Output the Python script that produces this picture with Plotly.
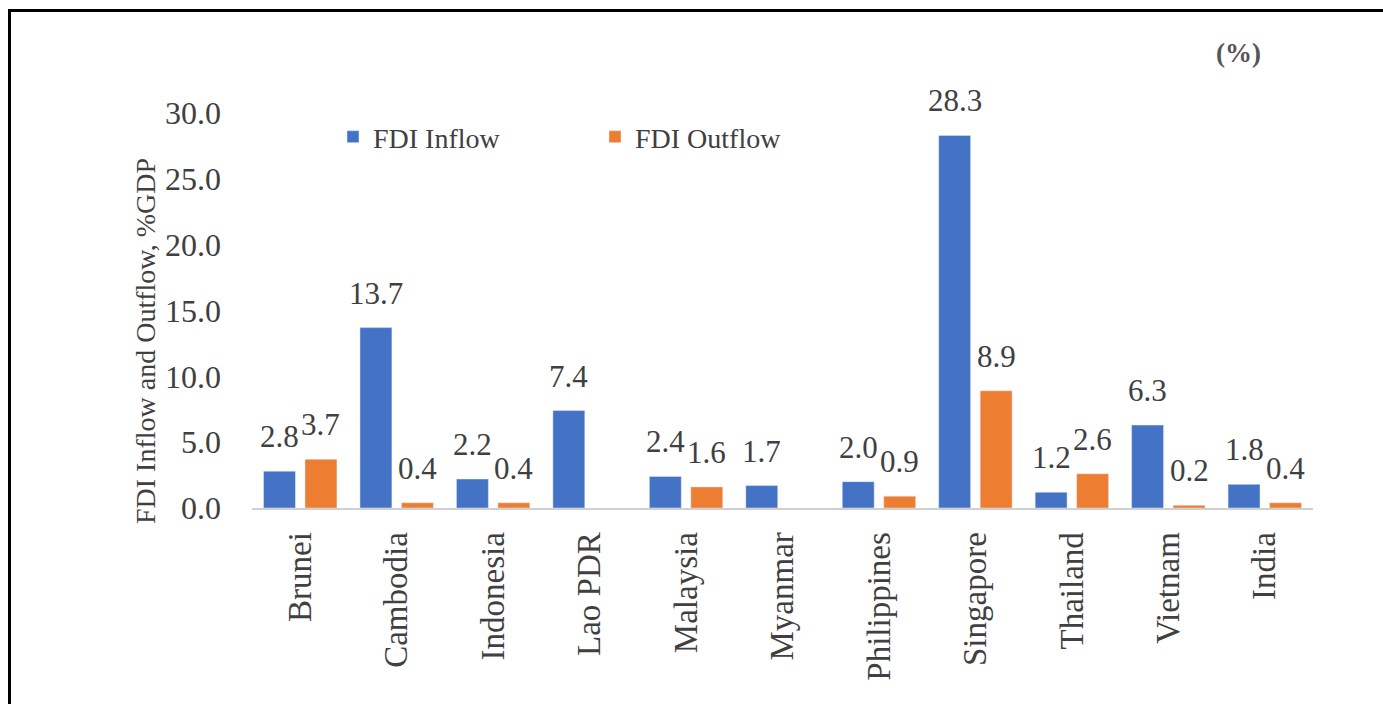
import plotly.graph_objects as go

categories = ["Brunei", "Cambodia", "Indonesia", "Lao PDR", "Malaysia", "Myanmar",
              "Philippines", "Singapore", "Thailand", "Vietnam", "India"]
inflow = [2.8, 13.7, 2.2, 7.4, 2.4, 1.7, 2.0, 28.3, 1.2, 6.3, 1.8]
outflow = [3.7, 0.4, 0.4, None, 1.6, None, 0.9, 8.9, 2.6, 0.2, 0.4]
y_ticks = [0, 5, 10, 15, 20, 25, 30]

BLUE = "#4472C4"
ORANGE = "#ED7D31"
TXT = "#404040"
FONT = "Liberation Serif, Times New Roman, DejaVu Serif, serif"

W, H = 1383, 704
L, R, T, B = 252, 70, 113, 196
pw = W - L - R
ph = H - T - B

fig = go.Figure()
fig.add_trace(go.Bar(name="FDI Inflow", x=categories, y=inflow, marker_color=BLUE))
fig.add_trace(go.Bar(name="FDI Outflow", x=categories, y=outflow, marker_color=ORANGE))

ann = []
shift = 20.75
for cat, v in zip(categories, inflow):
    if v is not None:
        ann.append(dict(x=cat, y=v, xref="x", yref="y", text=f"{v:.1f}", showarrow=False,
                        xshift=-shift, yshift=15, yanchor="bottom",
                        font=dict(family=FONT, size=31, color=TXT)))
for cat, v in zip(categories, outflow):
    if v is not None:
        ann.append(dict(x=cat, y=v, xref="x", yref="y", text=f"{v:.1f}", showarrow=False,
                        xshift=shift, yshift=15, yanchor="bottom",
                        font=dict(family=FONT, size=31, color=TXT)))

# y-axis title
ann.append(dict(x=(145 - L) / pw, y=(H - B - 341) / ph, xref="paper", yref="paper",
                text="FDI Inflow and Outflow, %GDP", textangle=-90, showarrow=False,
                xanchor="center", yanchor="middle",
                font=dict(family=FONT, size=28, color=TXT)))
# unit note
ann.append(dict(x=(1238 - L) / pw, y=(H - B - 53) / ph, xref="paper", yref="paper",
                text="<b>(%)</b>", showarrow=False, xanchor="center", yanchor="middle",
                font=dict(family=FONT, size=27, color="#555555")))

shapes = [
    dict(type="line", xref="paper", yref="paper",
         x0=(9.5 - L) / pw, x1=(9.5 - L) / pw, y0=(H - B - 710) / ph, y1=(H - B - 10.5) / ph,
         line=dict(color="black", width=3)),
    dict(type="line", xref="paper", yref="paper",
         x0=(8 - L) / pw, x1=(1390 - L) / pw, y0=(H - B - 10.5) / ph, y1=(H - B - 10.5) / ph,
         line=dict(color="black", width=3)),
]

fig.update_layout(
    width=W, height=H,
    margin=dict(l=L, r=R, t=T, b=B),
    paper_bgcolor="white", plot_bgcolor="white",
    barmode="group", bargap=0.14, bargroupgap=0.23,
    font=dict(family=FONT, color=TXT),
    showlegend=True,
    legend=dict(orientation="h", x=(333 - L) / pw, y=(H - B - 137) / ph,
                xanchor="left", yanchor="middle",
                font=dict(family=FONT, size=28, color=TXT),
                entrywidthmode="pixels", entrywidth=217,
                bgcolor="rgba(0,0,0,0)"),
    annotations=ann,
    shapes=shapes,
    xaxis=dict(showline=True, linecolor="#D0D0D0", linewidth=2, showgrid=False,
               tickangle=-90, ticks="", ticklabelstandoff=9,
               tickfont=dict(family=FONT, size=33, color=TXT)),
    yaxis=dict(range=[0, 30], tickvals=y_ticks, tickformat=".1f", showgrid=False,
               showline=False, zeroline=False, ticks="", ticklabelstandoff=30,
               tickfont=dict(family=FONT, size=32, color=TXT)),
)

fig.write_html("out.html")
